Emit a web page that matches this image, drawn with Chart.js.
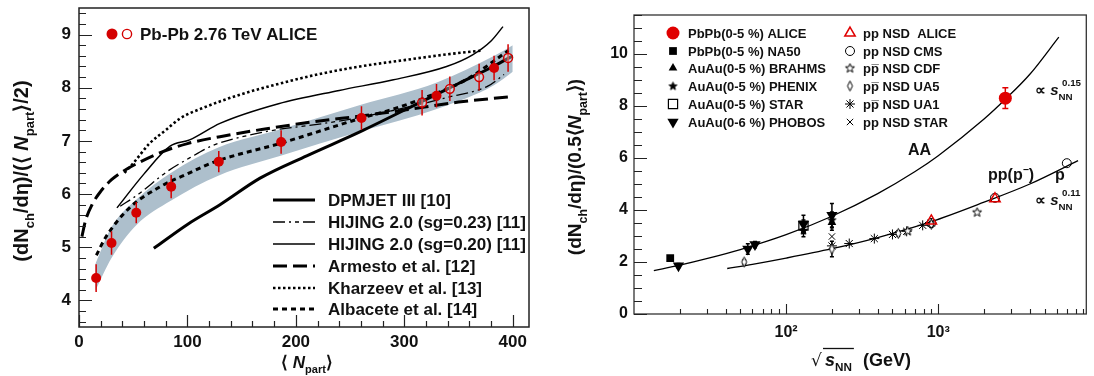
<!DOCTYPE html>
<html>
<head>
<meta charset="utf-8">
<script src="https://cdn.jsdelivr.net/npm/chart.js@4.4.1/dist/chart.umd.min.js"></script>
<style>
body { margin: 0; background: #fff; width: 1094px; height: 376px; overflow: hidden; }
.caja { position: absolute; top: 0; width: 545px; height: 376px; }
</style>
</head>
<body>
<div class="caja" style="left:0"><canvas id="graficaNpart"></canvas></div>
<div class="caja" style="left:549px"><canvas id="graficaEnergia"></canvas></div>
<script>
// ---- panel izquierdo: dNch/deta por par de participantes frente a <Npart>
var npartLleno = [15.8, 30, 52.8, 85, 128.9, 186.4, 260.5, 329.7, 382.8];
var dndetaLleno = [4.42, 5.08, 5.65, 6.14, 6.61, 6.98, 7.43, 7.85, 8.37];
var errLleno = [0.26, 0.22, 0.2, 0.22, 0.2, 0.22, 0.22, 0.22, 0.23];
var npartHueco = [316.4, 342, 369, 395.7];
var dndetaHueco = [7.72, 7.98, 8.2, 8.56];
var errHueco = [0.24, 0.23, 0.25, 0.26];
// banda sistematica
var bandaX = [15, 30, 53, 85, 129, 186, 260, 330, 383, 400];
var bandaBaja = [4.18, 4.8, 5.42, 5.88, 6.35, 6.72, 7.18, 7.6, 8.05, 8.3];
var bandaAlta = [4.68, 5.38, 5.9, 6.4, 6.88, 7.22, 7.68, 8.1, 8.6, 8.8];
// modelos
var dpmjetX = [69, 100, 130, 167, 210, 259, 316, 350, 382, 400];
var dpmjetY = [4.98, 5.43, 5.8, 6.3, 6.72, 7.17, 7.74, 8.08, 8.4, 8.6];
var hijing23X = [38, 55, 81, 102, 124, 155, 185, 216, 253, 300, 340, 377, 392];
var hijing23Y = [5.77, 6.0, 6.42, 6.68, 6.92, 7.1, 7.22, 7.3, 7.42, 7.62, 7.82, 8.03, 8.25];
var hijing20X = [35, 60, 84, 102, 130, 184, 240, 290, 339, 363, 380, 391];
var hijing20Y = [5.74, 6.38, 6.9, 7.02, 7.33, 7.7, 7.95, 8.15, 8.4, 8.62, 8.88, 9.15];
var armestoX = [2.7, 6, 12, 20, 30, 40, 53, 75, 100, 130, 170, 220, 260, 300, 350, 397];
var armestoY = [5.2, 5.5, 5.8, 6.05, 6.27, 6.42, 6.57, 6.78, 6.95, 7.08, 7.22, 7.37, 7.47, 7.58, 7.73, 7.83];
var kharzeevX = [42, 50, 65, 81, 93, 118, 150, 176, 220, 259, 300, 340, 372];
var kharzeevY = [6.4, 6.58, 6.95, 7.22, 7.42, 7.65, 7.88, 8.03, 8.25, 8.4, 8.52, 8.63, 8.7];
var albaceteX = [16, 25, 47, 75, 102, 127, 185, 259, 290, 320, 357, 396];
var albaceteY = [4.85, 5.2, 5.75, 6.14, 6.4, 6.62, 6.95, 7.42, 7.6, 7.82, 8.15, 8.7];
var ticksNpart = [0, 100, 200, 300, 400];
var ticksIzqY = [4, 5, 6, 7, 8, 9];

// ---- panel derecho: dependencia con la energia
var aliceAAx = [2760], aliceAAy = [8.3], aliceAAerr = [0.4];
var na50X = [17.3], na50Y = [2.15];
var brahmsX = [200], brahmsY = [3.52], brahmsErr = [0.3];
var phenixX = [130, 200], phenixY = [3.22, 3.62], phenixErr = [0.25, 0.3];
var starAAx = [130], starAAy = [3.4], starAAerr = [0.22];
var phobosX = [19.6, 56, 62.4, 130, 200], phobosY = [1.86, 2.5, 2.67, 3.45, 3.8], phobosErr = [0.08, 0.2, 0.12, 0.35, 0.45];
var alicePPx = [900, 2360], alicePPy = [3.58, 4.43];
var cmsX = [900, 2360, 7000], cmsY = [3.5, 4.47, 5.8];
var cdfX = [630, 1800], cdfY = [3.2, 3.92];
var ua5X = [53, 200, 546, 900], ua5Y = [2.0, 2.5, 3.1, 3.45], ua5Err = [0.08, 0.3, 0.1, 0.1];
var ua1X = [200, 260, 380, 500, 620, 790, 900], ua1Y = [2.62, 2.71, 2.9, 3.06, 3.18, 3.41, 3.5];
var starPPx = [200], starPPy = [2.98];
var ajusteAAx = [13.5, 20, 30, 50, 100, 200, 400, 700, 1000, 2000, 2760, 4000, 6200];
var ajusteAAy = [1.67, 1.88, 2.13, 2.48, 3.05, 3.76, 4.63, 5.47, 6.09, 7.5, 8.26, 9.22, 10.65];
var ajustePPx = [41, 60, 100, 200, 400, 900, 2000, 4000, 8300];
var ajustePPy = [1.75, 1.91, 2.15, 2.51, 2.94, 3.55, 4.3, 5.0, 5.9];
var ticksDerY = [0, 2, 4, 6, 8, 10];
var ticksEnergia = [100, 1000];

var FUENTE = '"Liberation Sans", Arial, Helvetica, sans-serif';
var rojo = '#d40000';

function puntos(xs, ys) {
    var r = [];
    for (var i = 0; i < xs.length; i++) r.push({x: xs[i], y: ys[i]});
    return r;
}

// texto con subindices / superindices
function dibujarRico(ctx, partes, x, y, tam, centrado) {
    var medidas = [], total = 0;
    for (var i = 0; i < partes.length; i++) {
        var p = partes[i];
        var t = (p[1] === 'sub' || p[1] === 'sup') ? tam * 0.65 : tam;
        var estilo = (p[1] === 'i') ? 'italic bold ' : 'bold ';
        var f = estilo + t + 'px ' + FUENTE;
        ctx.font = f;
        var w = ctx.measureText(p[0]).width;
        var dy = p[1] === 'sub' ? tam * 0.3 : (p[1] === 'sup' ? -tam * 0.45 : 0);
        medidas.push({texto: p[0], f: f, w: w, dy: dy});
        total += w;
    }
    var cx = centrado ? x - total / 2 : x;
    ctx.textAlign = 'left';
    ctx.textBaseline = 'alphabetic';
    for (var j = 0; j < medidas.length; j++) {
        ctx.font = medidas[j].f;
        ctx.fillText(medidas[j].texto, cx, y + medidas[j].dy);
        cx += medidas[j].w;
    }
    return total;
}

function marcasX(ctx, escala, area, valores, largo) {
    ctx.beginPath();
    for (var i = 0; i < valores.length; i++) {
        var px = Math.round(escala.getPixelForValue(valores[i])) + 0.5;
        ctx.moveTo(px, area.bottom);
        ctx.lineTo(px, area.bottom - largo);
    }
    ctx.stroke();
}

function marcasY(ctx, escala, area, valores, largo) {
    ctx.beginPath();
    for (var i = 0; i < valores.length; i++) {
        var py = Math.round(escala.getPixelForValue(valores[i])) + 0.5;
        ctx.moveTo(area.left, py);
        ctx.lineTo(area.left + largo, py);
    }
    ctx.stroke();
}

function barrasError(ctx, chart, xs, ys, errs, color, tapa) {
    var ex = chart.scales.x, ey = chart.scales.y;
    ctx.save();
    ctx.strokeStyle = color;
    ctx.lineWidth = 1.5;
    ctx.beginPath();
    for (var i = 0; i < xs.length; i++) {
        var px = ex.getPixelForValue(xs[i]);
        var y1 = ey.getPixelForValue(ys[i] - errs[i]);
        var y2 = ey.getPixelForValue(ys[i] + errs[i]);
        ctx.moveTo(px, y1);
        ctx.lineTo(px, y2);
        if (tapa) {
            ctx.moveTo(px - tapa, y1); ctx.lineTo(px + tapa, y1);
            ctx.moveTo(px - tapa, y2); ctx.lineTo(px + tapa, y2);
        }
    }
    ctx.stroke();
    ctx.restore();
}

function curva(label, xs, ys, ancho, guiones) {
    return {
        label: label, data: puntos(xs, ys), showLine: true, pointRadius: 0,
        borderColor: '#000', borderWidth: ancho, borderDash: guiones,
        cubicInterpolationMode: 'monotone', fill: false
    };
}

// fija las marcas de la escala a una lista
function fijarTicks(lista) {
    return function (escala) {
        escala.ticks = lista.map(function (v) { return {value: v}; });
    };
}

// tamano fijo del eje y sin relleno extra para las etiquetas
function fijarAncho(ancho) {
    return function (e) { e.width = ancho; e.paddingTop = 0; e.paddingBottom = 0; };
}
function fijarAlto(alto) {
    return function (e) { e.height = alto; e.paddingLeft = 0; e.paddingRight = 0; };
}

// ---------------- grafica izquierda ----------------
var estilosModelo = [
    {texto: 'DPMJET III [10]', ancho: 3, guiones: []},
    {texto: 'HIJING 2.0 (sg=0.23) [11]', ancho: 1.3, guiones: [12, 4, 2, 4, 4, 4]},
    {texto: 'HIJING 2.0 (sg=0.20) [11]', ancho: 1.5, guiones: []},
    {texto: 'Armesto et al. [12]', ancho: 3, guiones: [14, 6]},
    {texto: 'Kharzeev et al. [13]', ancho: 2.6, guiones: [2.5, 2.5]},
    {texto: 'Albacete et al. [14]', ancho: 3, guiones: [5, 4]}
];

var decoIzq = {
    id: 'decoIzq',
    beforeDatasetDraw: function (chart, args) {
        var ctx = chart.ctx;
        if (args.index === 0) barrasError(ctx, chart, npartLleno, dndetaLleno, errLleno, rojo, 0);
        if (args.index === 1) barrasError(ctx, chart, npartHueco, dndetaHueco, errHueco, rojo, 0);
    },
    afterDraw: function (chart) {
        var ctx = chart.ctx, area = chart.chartArea;
        var ex = chart.scales.x, ey = chart.scales.y;
        ctx.save();
        ctx.strokeStyle = '#222';
        ctx.lineWidth = 1.5;
        ctx.strokeRect(area.left, area.top, area.right - area.left, area.bottom - area.top);
        ctx.lineWidth = 1.2;
        var menores = [];
        for (var v = 20; v <= 415; v += 20) if (v % 100 !== 0) menores.push(v);
        marcasX(ctx, ex, area, menores, 6);
        marcasX(ctx, ex, area, ticksNpart, 12);
        var menY = [];
        for (var k = 18; k <= 47; k++) if (k % 5 !== 0) menY.push(k / 5);
        marcasY(ctx, ey, area, menY, 7);
        marcasY(ctx, ey, area, ticksIzqY, 13);

        // titulo
        ctx.fillStyle = rojo;
        ctx.beginPath(); ctx.arc(112, 34, 5.5, 0, Math.PI * 2); ctx.fill();
        ctx.strokeStyle = rojo; ctx.lineWidth = 1.4;
        ctx.beginPath(); ctx.arc(127, 34, 4.6, 0, Math.PI * 2); ctx.stroke();
        ctx.fillStyle = '#111';
        ctx.font = 'bold 17px ' + FUENTE;
        ctx.textAlign = 'left'; ctx.textBaseline = 'alphabetic';
        ctx.fillText('Pb-Pb 2.76 TeV ALICE', 140, 40);

        // leyenda de modelos
        var filas = [200, 222, 244, 266, 288, 309];
        ctx.strokeStyle = '#000';
        for (var i = 0; i < estilosModelo.length; i++) {
            var m = estilosModelo[i];
            ctx.lineWidth = m.ancho;
            ctx.setLineDash(m.guiones);
            ctx.beginPath(); ctx.moveTo(273, filas[i]); ctx.lineTo(315, filas[i]); ctx.stroke();
            ctx.setLineDash([]);
            ctx.font = 'bold 17px ' + FUENTE;
            ctx.fillText(m.texto, 328, filas[i] + 6);
        }

        // titulos de ejes
        dibujarRico(ctx, [['\u27e8 ', 'n'], ['N', 'i'], ['part', 'sub'], ['\u27e9', 'n']], 281, 368, 17, false);
        ctx.save();
        ctx.translate(28, 171);
        ctx.rotate(-Math.PI / 2);
        dibujarRico(ctx, [['(dN', 'n'], ['ch', 'sub'], ['/d\u03b7)/(\u27e8 ', 'n'], ['N', 'i'], ['part', 'sub'], ['\u27e9/2)', 'n']], 0, 0, 20, true);
        ctx.restore();
        ctx.restore();
    }
};

var datasetsIzq = [
    {label: 'ALICE', data: puntos(npartLleno, dndetaLleno), showLine: false, pointRadius: 5,
        pointBackgroundColor: rojo, pointBorderColor: rojo, pointBorderWidth: 0},
    {label: 'ALICE hueco', data: puntos(npartHueco, dndetaHueco), showLine: false, pointRadius: 4.4,
        pointBackgroundColor: 'rgba(255,255,255,0.35)', pointBorderColor: rojo, pointBorderWidth: 1.5}
];
var modelosX = [dpmjetX, hijing23X, hijing20X, armestoX, kharzeevX, albaceteX];
var modelosY = [dpmjetY, hijing23Y, hijing20Y, armestoY, kharzeevY, albaceteY];
for (var m = 0; m < estilosModelo.length; m++) {
    datasetsIzq.push(curva(estilosModelo[m].texto, modelosX[m], modelosY[m], estilosModelo[m].ancho, estilosModelo[m].guiones));
}
datasetsIzq.push({label: 'banda alta', data: puntos(bandaX, bandaAlta), showLine: true, pointRadius: 0,
    borderWidth: 0, borderColor: 'rgba(0,0,0,0)', backgroundColor: '#adbfcc', fill: '+1', cubicInterpolationMode: 'monotone'});
datasetsIzq.push({label: 'banda baja', data: puntos(bandaX, bandaBaja), showLine: true, pointRadius: 0,
    borderWidth: 0, borderColor: 'rgba(0,0,0,0)', fill: false, cubicInterpolationMode: 'monotone'});

var graficaNpart = new Chart('graficaNpart', {
    type: 'scatter',
    data: {datasets: datasetsIzq},
    options: {
        responsive: true, maintainAspectRatio: false, animation: false, events: [],
        layout: {padding: {left: 0, top: 8, right: 16, bottom: 0}},
        plugins: {legend: {display: false}, tooltip: {enabled: false}},
        scales: {
            x: {
                type: 'linear', min: 0, max: 415,
                grid: {display: false, drawTicks: false}, border: {display: false},
                afterFit: fijarAlto(49),
                afterBuildTicks: fijarTicks(ticksNpart),
                ticks: {padding: 5, color: '#111', maxRotation: 0, autoSkip: false,
                    font: {family: FUENTE, size: 17, weight: 'bold'}}
            },
            y: {
                type: 'linear', min: 3.5, max: 9.5,
                grid: {display: false, drawTicks: false}, border: {display: false},
                afterFit: fijarAncho(79),
                afterBuildTicks: fijarTicks(ticksIzqY),
                ticks: {padding: 8, color: '#111', autoSkip: false,
                    font: {family: FUENTE, size: 17, weight: 'bold'}}
            }
        }
    },
    plugins: [decoIzq]
});

// ---------------- grafica derecha ----------------
function hacerMarca(tipo, relleno, r1) {
    var c = document.createElement('canvas');
    c.width = 13; c.height = 13;
    var g = c.getContext('2d');
    g.strokeStyle = '#000'; g.fillStyle = relleno ? '#000' : '#fff';
    g.lineWidth = 1;
    g.beginPath();
    if (tipo === 'estrella') {
        for (var i = 0; i < 10; i++) {
            var r = i % 2 === 0 ? r1 : r1 * 0.42;
            var a = -Math.PI / 2 + i * Math.PI / 5;
            var px = 6.5 + r * Math.cos(a), py = 6.8 + r * Math.sin(a);
            if (i === 0) g.moveTo(px, py); else g.lineTo(px, py);
        }
    } else {
        g.moveTo(6.5, 1.5); g.lineTo(9, 6.5); g.lineTo(6.5, 11.5); g.lineTo(4, 6.5);
    }
    g.closePath();
    g.fill();
    g.stroke();
    return c;
}
var estrellaLlena = hacerMarca('estrella', true, 4.2);
var estrellaHueca = hacerMarca('estrella', false, 4.8);
var rombo = hacerMarca('rombo', false, 0);

var marcadoresDer = [
    {label: 'PbPb(0-5 %) ALICE', xs: aliceAAx, ys: aliceAAy, estilo: 'circle', radio: 6.5, fondo: '#e00000', borde: '#e00000', ancho: 0, col: 0},
    {label: 'PbPb(0-5 %) NA50', xs: na50X, ys: na50Y, estilo: 'rect', radio: 5.5, fondo: '#000', borde: '#000', ancho: 0, col: 0},
    {label: 'AuAu(0-5 %) BRAHMS', xs: brahmsX, ys: brahmsY, estilo: 'triangle', radio: 5, fondo: '#000', borde: '#000', ancho: 0, col: 0},
    {label: 'AuAu(0-5 %) PHENIX', xs: phenixX, ys: phenixY, estilo: estrellaLlena, radio: 5, fondo: '#000', borde: '#000', ancho: 0, col: 0},
    {label: 'AuAu(0-5 %) STAR', xs: starAAx, ys: starAAy, estilo: 'rect', radio: 6.5, fondo: 'rgba(255,255,255,0)', borde: '#000', ancho: 1.2, col: 0},
    {label: 'AuAu(0-6 %) PHOBOS', xs: phobosX, ys: phobosY, estilo: 'triangle', radio: 6.5, rot: 180, fondo: '#000', borde: '#000', ancho: 0, col: 0},
    {label: 'pp NSD  ALICE', xs: alicePPx, ys: alicePPy, estilo: 'triangle', radio: 6, fondo: 'rgba(255,255,255,0)', borde: '#e00000', ancho: 1.5, col: 1},
    {label: 'pp NSD CMS', xs: cmsX, ys: cmsY, estilo: 'circle', radio: 4.5, fondo: 'rgba(255,255,255,0)', borde: '#000', ancho: 1, col: 1},
    {label: 'pp\u0305 NSD CDF', xs: cdfX, ys: cdfY, estilo: estrellaHueca, radio: 5, fondo: '#fff', borde: '#000', ancho: 1, col: 1},
    {label: 'pp\u0305 NSD UA5', xs: ua5X, ys: ua5Y, estilo: rombo, radio: 5, fondo: '#fff', borde: '#000', ancho: 1, col: 1},
    {label: 'pp\u0305 NSD UA1', xs: ua1X, ys: ua1Y, estilo: 'star', radio: 5, fondo: '#000', borde: '#000', ancho: 1, col: 1},
    {label: 'pp NSD STAR', xs: starPPx, ys: starPPy, estilo: 'crossRot', radio: 4.5, fondo: '#000', borde: '#000', ancho: 1, col: 1}
];

var decoDer = {
    id: 'decoDer',
    beforeDatasetDraw: function (chart, args) {
        var ctx = chart.ctx;
        if (args.index === 0) barrasError(ctx, chart, aliceAAx, aliceAAy, aliceAAerr, '#e00000', 3);
        if (args.index === 2) barrasError(ctx, chart, brahmsX, brahmsY, brahmsErr, '#000', 2);
        if (args.index === 3) barrasError(ctx, chart, phenixX, phenixY, phenixErr, '#000', 2);
        if (args.index === 4) barrasError(ctx, chart, starAAx, starAAy, starAAerr, '#000', 2);
        if (args.index === 5) barrasError(ctx, chart, phobosX, phobosY, phobosErr, '#000', 2);
        if (args.index === 9) barrasError(ctx, chart, ua5X, ua5Y, ua5Err, '#000', 2);
    },
    afterDraw: function (chart) {
        var ctx = chart.ctx, area = chart.chartArea;
        var ex = chart.scales.x, ey = chart.scales.y;
        ctx.save();
        ctx.strokeStyle = '#333';
        ctx.lineWidth = 1.3;
        ctx.strokeRect(area.left, area.top, area.right - area.left, area.bottom - area.top);
        ctx.strokeStyle = '#222';
        ctx.lineWidth = 1.1;
        var menores = [];
        var decadas = [10, 100, 1000];
        for (var d = 0; d < decadas.length; d++)
            for (var k = 2; k <= 9; k++) if (decadas[d] * k <= 9400) menores.push(decadas[d] * k);
        marcasX(ctx, ex, area, menores, 5);
        marcasX(ctx, ex, area, ticksEnergia, 10);
        var menY = [];
        for (var j = 1; j <= 23; j++) if (j % 4 !== 0) menY.push(j / 2);
        marcasY(ctx, ey, area, menY, 8);
        marcasY(ctx, ey, area, ticksDerY, 13);

        // leyenda
        var filas = [33, 51, 68, 86, 104, 122];
        var cols = [[124, 139], [301, 314]];
        var n = [0, 0];
        for (var i = 0; i < marcadoresDer.length; i++) {
            var mk = marcadoresDer[i];
            var fila = filas[n[mk.col]++];
            var c = cols[mk.col];
            ctx.fillStyle = mk.fondo;
            ctx.strokeStyle = mk.borde;
            ctx.lineWidth = mk.ancho;
            Chart.helpers.drawPoint(ctx, {pointStyle: mk.estilo, radius: mk.radio, rotation: mk.rot || 0, borderWidth: mk.ancho}, c[0], fila);
            ctx.fillStyle = '#111';
            ctx.font = 'bold 13px ' + FUENTE;
            ctx.textAlign = 'left'; ctx.textBaseline = 'alphabetic';
            ctx.fillText(mk.label, c[1], fila + 5);
        }

        // anotaciones
        ctx.fillStyle = '#111';
        dibujarRico(ctx, [['AA', 'n']], 359, 155, 16, false);
        dibujarRico(ctx, [['pp(p', 'n'], ['\u2212', 'sup'], [')', 'n']], 439, 180, 16, false);
        dibujarRico(ctx, [['p', 'n']], 506, 180, 16, false);
        dibujarRico(ctx, [['\u221d ', 'n'], ['s', 'i'], ['NN', 'sub']], 486, 95, 15, false);
        dibujarRico(ctx, [['0.15', 'sup']], 513, 93, 15, false);
        dibujarRico(ctx, [['\u221d ', 'n'], ['s', 'i'], ['NN', 'sub']], 486, 205, 15, false);
        dibujarRico(ctx, [['0.11', 'sup']], 513, 203, 15, false);

        // titulos de ejes
        ctx.font = '17px "DejaVu Sans", ' + FUENTE;
        ctx.fillText('\u221a', 262, 366);
        var w = dibujarRico(ctx, [['s', 'i'], ['NN', 'sub']], 276, 366, 18, false);
        ctx.strokeStyle = '#111'; ctx.lineWidth = 1.3;
        ctx.beginPath(); ctx.moveTo(274, 348.5); ctx.lineTo(276 + w + 2, 348.5); ctx.stroke();
        dibujarRico(ctx, [['(GeV)', 'n']], 314, 366, 18, false);
        ctx.save();
        ctx.translate(32, 167);
        ctx.rotate(-Math.PI / 2);
        dibujarRico(ctx, [['(dN', 'n'], ['ch', 'sub'], ['/d\u03b7)/(0.5\u27e8', 'n'], ['N', 'i'], ['part', 'sub'], ['\u27e9)', 'n']], 0, 0, 19, true);
        ctx.restore();
        ctx.restore();
    }
};

var datasetsDer = [];
for (var q = 0; q < marcadoresDer.length; q++) {
    var mk = marcadoresDer[q];
    datasetsDer.push({label: mk.label, data: puntos(mk.xs, mk.ys), showLine: false,
        pointStyle: mk.estilo, pointRadius: mk.radio, pointRotation: mk.rot || 0,
        pointBackgroundColor: mk.fondo, pointBorderColor: mk.borde, pointBorderWidth: mk.ancho});
}
datasetsDer.push(curva('AA', ajusteAAx, ajusteAAy, 1.3, []));
datasetsDer.push(curva('pp', ajustePPx, ajustePPy, 1.3, []));

var graficaEnergia = new Chart('graficaEnergia', {
    type: 'scatter',
    data: {datasets: datasetsDer},
    options: {
        responsive: true, maintainAspectRatio: false, animation: false, events: [],
        layout: {padding: {left: 0, top: 15, right: 0, bottom: 0}},
        plugins: {legend: {display: false}, tooltip: {enabled: false}},
        scales: {
            x: {
                type: 'logarithmic', min: 10, max: 9400,
                grid: {display: false, drawTicks: false}, border: {display: false},
                afterFit: fijarAlto(62),
                afterBuildTicks: fijarTicks(ticksEnergia),
                ticks: {padding: 9, color: '#111', maxRotation: 0, autoSkip: false,
                    font: {family: FUENTE, size: 16, weight: 'bold'},
                    callback: function (v) { return v === 100 ? '10\u00b2' : '10\u00b3'; }}
            },
            y: {
                type: 'linear', min: 0, max: 11.5,
                grid: {display: false, drawTicks: false}, border: {display: false},
                afterFit: fijarAncho(85),
                afterBuildTicks: fijarTicks(ticksDerY),
                ticks: {padding: 6, color: '#111', autoSkip: false,
                    font: {family: FUENTE, size: 16, weight: 'bold'}}
            }
        }
    },
    plugins: [decoDer]
});
</script>
</body>
</html>
